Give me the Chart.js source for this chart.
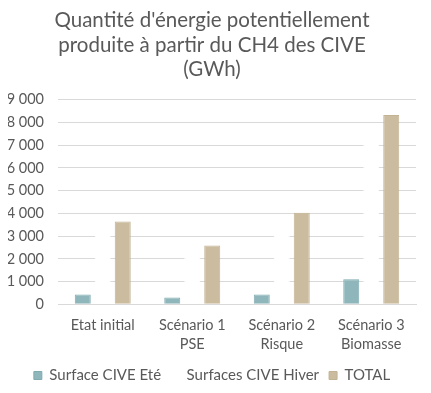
<!DOCTYPE html>
<html>
<head>
<meta charset="utf-8">
<script src="https://cdn.jsdelivr.net/npm/chart.js@4/dist/chart.umd.min.js"></script>
<style>
  html, body { margin: 0; padding: 0; background: #fff; }
  #wrap { width: 431px; height: 393px; }
</style>
</head>
<body>
<div id="wrap"><canvas id="chart"></canvas></div>
<script>
const categories = ['Etat initial', ['Scénario 1', 'PSE'], ['Scénario 2', 'Risque'], ['Scénario 3', 'Biomasse']]
const surfaceEte = [430, 300, 430, 1100]
const surfacesHiver = [3210, 2290, 3600, 7230]
const total = [3640, 2590, 4030, 8330]

const fontFamily = "'Lato', 'Noto Sans', sans-serif"
const textColor = '#595959'
const fmt = v => String(v).replace(/\B(?=(\d{3})+(?!\d))/g, ' ')

new Chart(document.getElementById('chart'), {
    type: 'bar',
    data: {
        labels: categories,
        datasets: [{
            label: 'Surface CIVE Eté',
            data: surfaceEte,
            backgroundColor: '#8fb7bb',
            borderColor: '#7fabb0',
            borderWidth: 1
        }, {
            // white bars, only visible where they cut the gridlines
            label: 'Surfaces CIVE Hiver',
            data: surfacesHiver,
            backgroundColor: '#ffffff',
            borderColor: '#ffffff',
            borderWidth: 1
        }, {
            label: 'TOTAL',
            data: total,
            backgroundColor: '#cbbc9f',
            borderColor: '#c2b393',
            borderWidth: 1
        }]
    },
    options: {
        responsive: true,
        maintainAspectRatio: false,
        animation: false,
        categoryPercentage: 0.67,
        barPercentage: 0.8,
        layout: { padding: { left: 8, right: 15, top: 2, bottom: 0 } },
        plugins: {
            title: {
                display: true,
                text: ["Quantité d'énergie potentiellement", 'produite à partir du CH4 des CIVE', '(GWh)'],
                color: textColor,
                font: { family: fontFamily, size: 20.5, weight: 'normal', lineHeight: 1.2 },
                padding: { top: 6, bottom: 18 }
            },
            legend: {
                position: 'bottom',
                labels: {
                    color: textColor,
                    font: { family: fontFamily, size: 15 },
                    boxWidth: 8,
                    boxHeight: 8,
                    padding: 10
                }
            },
            tooltip: { enabled: false }
        },
        scales: {
            x: {
                grid: { display: false },
                border: { color: '#d9d9d9' },
                ticks: {
                    color: textColor,
                    font: { family: fontFamily, size: 14.5, lineHeight: 1.3 },
                    maxRotation: 0,
                    autoSkip: false,
                    padding: 4
                }
            },
            y: {
                min: 0,
                max: 9000,
                afterFit: axis => { axis.width = 50 },
                grid: { color: '#d9d9d9', drawTicks: false, z: -1 },
                border: { display: false },
                ticks: {
                    stepSize: 1000,
                    color: textColor,
                    font: { family: fontFamily, size: 14.5 },
                    padding: 14,
                    callback: v => fmt(v)
                }
            }
        }
    }
})
</script>
</body>
</html>
